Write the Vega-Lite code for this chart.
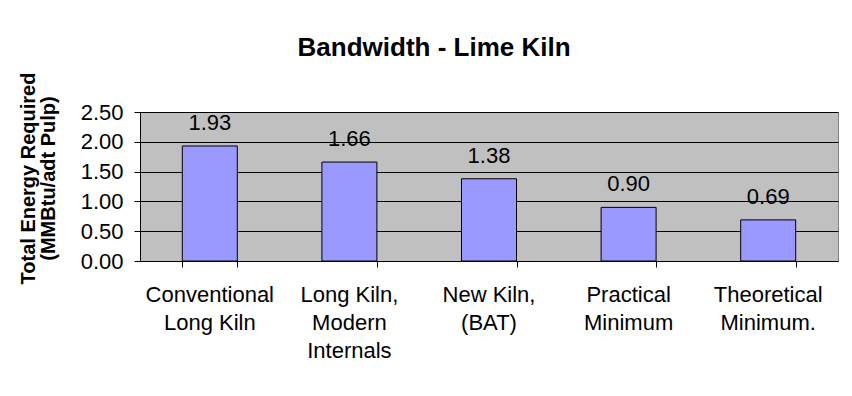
{
  "$schema": "https://vega.github.io/schema/vega-lite/v6.json",
  "width": 698,
  "height": 149,
  "padding": {"left": 18, "top": 35, "right": 10, "bottom": 5},
  "background": "white",
  "title": {
    "text": "Bandwidth - Lime Kiln",
    "font": "Liberation Sans",
    "fontSize": 26,
    "fontWeight": "bold",
    "color": "black",
    "anchor": "middle",
    "frame": "bounds",
    "offset": 11,
    "dx": 6
  },
  "data": {
    "values": [
      {"kiln": "Conventional Long Kiln", "energy": 1.93},
      {"kiln": "Long Kiln, Modern Internals", "energy": 1.66},
      {"kiln": "New Kiln, (BAT)", "energy": 1.38},
      {"kiln": "Practical Minimum", "energy": 0.90},
      {"kiln": "Theoretical Minimum.", "energy": 0.69}
    ]
  },
  "encoding": {
    "y": {
      "field": "energy",
      "type": "quantitative",
      "scale": {"domain": [0, 2.5], "nice": false},
      "axis": {
        "title": ["Total Energy Required", "(MMBtu/adt Pulp)"],
        "titleFont": "Liberation Sans",
        "titleFontSize": 20,
        "titleFontWeight": "bold",
        "titleColor": "black",
        "titleLineHeight": 20,
        "titlePadding": 22,
        "titleY": 66,
        "values": [0, 0.5, 1, 1.5, 2, 2.5],
        "labelOverlap": false,
        "labelFlush": false,
        "format": ".2f",
        "grid": true,
        "gridColor": "black",
        "gridOpacity": 1,
        "tickSize": 6,
        "tickColor": "black",
        "domainColor": "black",
        "labelFont": "Liberation Sans",
        "labelFontSize": 22,
        "labelColor": "black",
        "labelPadding": 11
      }
    }
  },
  "resolve": {"axis": {"x": "independent"}},
  "layer": [
    {
      "mark": {"type": "bar", "color": "#9999FF", "stroke": "black", "strokeWidth": 1},
      "encoding": {
        "x": {
          "field": "kiln",
          "type": "nominal",
          "sort": null,
          "scale": {"paddingInner": 0.606, "paddingOuter": 0.303},
          "axis": {
            "orient": "bottom",
            "title": null,
            "labels": false,
            "tickBand": "extent",
            "tickSize": 6,
            "tickColor": "black",
            "domainColor": "black"
          }
        }
      }
    },
    {
      "mark": {"type": "text", "baseline": "alphabetic", "dy": -16, "font": "Liberation Sans", "fontSize": 22, "color": "black"},
      "encoding": {
        "x": {
          "field": "kiln",
          "type": "nominal",
          "sort": null,
          "axis": {
            "orient": "bottom",
            "title": null,
            "labelAngle": 0,
            "ticks": false,
            "domain": false,
            "grid": false,
            "labelFont": "Liberation Sans",
            "labelFontSize": 22,
            "labelColor": "black",
            "labelLineHeight": 28,
            "labelPadding": 23,
            "labelBaseline": "top",
            "labelLimit": 0,
            "labelExpr": "datum.value == 'Conventional Long Kiln' ? ['Conventional', 'Long Kiln'] : datum.value == 'Long Kiln, Modern Internals' ? ['Long Kiln,', 'Modern', 'Internals'] : datum.value == 'New Kiln, (BAT)' ? ['New Kiln,', '(BAT)'] : datum.value == 'Practical Minimum' ? ['Practical', 'Minimum'] : ['Theoretical', 'Minimum.']"
          }
        },
        "text": {"field": "energy", "type": "quantitative", "format": ".2f"}
      }
    }
  ],
  "config": {
    "view": {"fill": "#C0C0C0", "stroke": "#808080", "strokeWidth": 1}
  }
}
